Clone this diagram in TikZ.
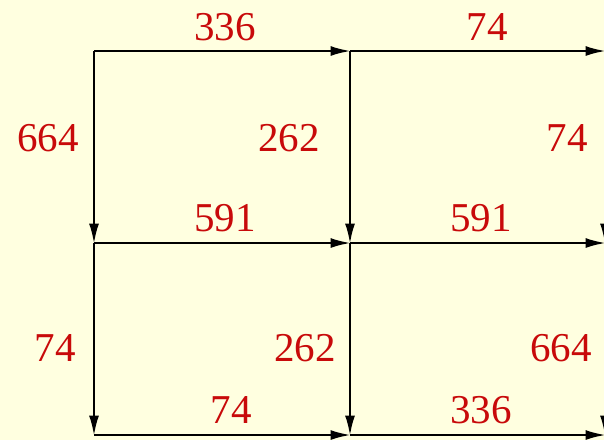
\documentclass[tikz,border=0pt]{standalone}
\usepackage{fontspec}
\setmainfont{Liberation Serif}
\usetikzlibrary{arrows.meta}
\definecolor{bg}{RGB}{255,255,224}
\definecolor{lbl}{RGB}{200,10,10}
\begin{document}
\begin{tikzpicture}[x=1pt,y=-1pt,
  edge/.style={line width=2pt,-{Latex[length=20pt,width=10pt]},shorten >=-0.5pt},
  num/.style={text=lbl,font=\fontsize{41}{41}\selectfont,anchor=base,inner sep=0pt}]
\fill[bg] (0,0) rectangle (604,440);
\useasboundingbox (0,0) rectangle (604,440);
% grid points
\coordinate (a0) at (94,51);  \coordinate (a1) at (350,51);  \coordinate (a2) at (605,51);
\coordinate (b0) at (94,243); \coordinate (b1) at (350,243); \coordinate (b2) at (605,243);
\coordinate (c0) at (94,435); \coordinate (c1) at (350,435); \coordinate (c2) at (605,435);
% horizontal arrows
\draw[edge] (a0) -- (a1);
\draw[edge] (a1) -- (a2);
\draw[edge] (b0) -- (b1);
\draw[edge] (b1) -- (b2);
\draw[edge] (c0) -- (c1);
\draw[edge] (c1) -- (c2);
% vertical arrows
\draw[edge] (a0) -- (b0);
\draw[edge] (a1) -- (b1);
\draw[edge] (a2) -- (b2);
\draw[edge] (b0) -- (c0);
\draw[edge] (b1) -- (c1);
\draw[edge] (b2) -- (c2);
% labels
\node[num] (l1) at (225,40) {336};
\node[num] (l2) at (487,40) {74};
\node[num] (l3) at (48,151) {664};
\node[num] (l4) at (289,151) {262};
\node[num] (l5) at (567,151) {74};
\node[num] (l6) at (225,231) {591};
\node[num] (l7) at (481,231) {591};
\node[num] (l8) at (55,361) {74};
\node[num] (l9) at (305,361) {262};
\node[num] (l10) at (561,361) {664};
\node[num] (l11) at (231,423) {74};
\node[num] (l12) at (481,423) {336};
\end{tikzpicture}
\end{document}
